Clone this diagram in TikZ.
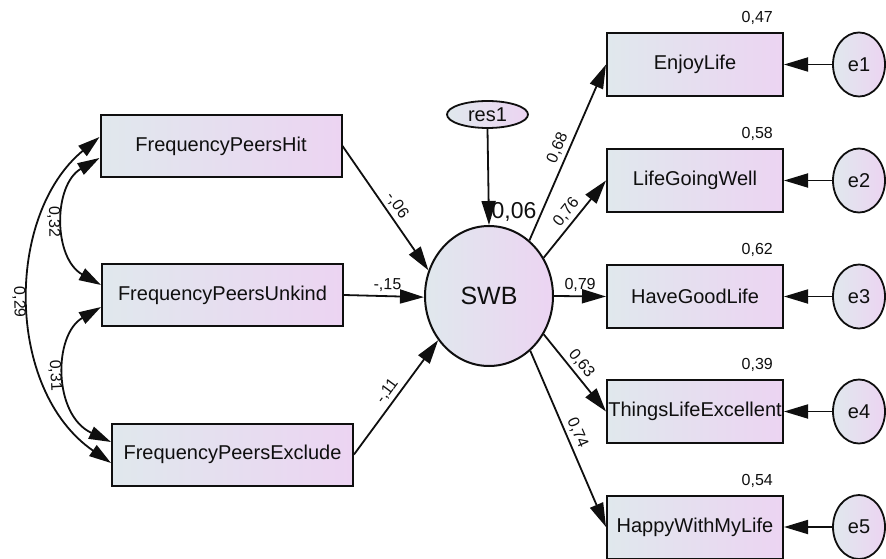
\documentclass[tikz,border=0pt]{standalone}
\usepackage{fontspec}
\setmainfont{Liberation Sans}
\usetikzlibrary{arrows.meta,shapes.geometric,calc}
\definecolor{boxL}{RGB}{224,232,237}
\definecolor{boxR}{RGB}{236,212,242}
\definecolor{ink}{RGB}{15,15,15}
\begin{document}
\begin{tikzpicture}[x=1pt,y=1pt,
  obs/.style={rectangle,draw=ink,line width=2pt,left color=boxL,right color=boxR,inner sep=0pt,minimum height=62pt,font=\fontsize{20}{24}\selectfont,text=ink},
  lobs/.style={obs,minimum width=241pt},
  robs/.style={obs,minimum width=176pt,minimum height=63pt},
  err/.style={ellipse,draw=ink,line width=1.8pt,left color=boxL,right color=boxR,inner sep=0pt,minimum width=52pt,minimum height=64pt,font=\fontsize{20}{24}\selectfont,text=ink},
  lat/.style={ellipse,draw=ink,line width=2pt,left color=boxL,right color=boxR,inner sep=0pt,minimum width=128pt,minimum height=140pt,font=\fontsize{25}{30}\selectfont,text=ink},
  resid/.style={ellipse,draw=ink,line width=1.8pt,left color=boxL,right color=boxR,inner sep=0pt,minimum width=81pt,minimum height=27pt,font=\fontsize{20}{24}\selectfont,text=ink},
  conn/.style={line width=1.8pt,draw=ink,-{Triangle[length=24pt,width=14pt]}},
  cov/.style={line width=1.8pt,draw=ink,{Triangle[length=22pt,width=13pt]}-{Triangle[length=22pt,width=13pt]}},
  coef/.style={font=\fontsize{16}{19}\selectfont,text=ink,inner sep=3.5pt},
  rsq/.style={font=\fontsize{16}{19}\selectfont,text=ink,inner sep=0pt,anchor=south east}
]
\useasboundingbox (0,0) rectangle (886,-559);

% left observed variables
\node[lobs] (hit) at (221,-146) {FrequencyPeersHit};
\node[lobs] (unk) at (222.5,-295) {FrequencyPeersUnkind};
\node[lobs] (exc) at (232.5,-454.5) {FrequencyPeersExclude};

% latent
\node[lat] (swb) at (489,-296) {SWB};
\node[resid] (res) at (487.5,-114.5) {res1};

% right observed variables
\node[robs] (y1) at (695,-64.5) {EnjoyLife};
\node[robs] (y2) at (695,-180.5) {LifeGoingWell};
\node[robs] (y3) at (695,-296.5) {HaveGoodLife};
\node[robs] (y4) at (695,-411.5) {ThingsLifeExcellent};
\node[robs] (y5) at (695,-527) {HappyWithMyLife};

% errors
\node[err] (e1) at (859,-64.5) {e1};
\node[err] (e2) at (859,-180.5) {e2};
\node[err] (e3) at (859,-296.5) {e3};
\node[err] (e4) at (859,-411.5) {e4};
\node[err] (e5) at (859,-527) {e5};

% R^2 values
\node[rsq] (r1) at ($(y1.north east)+(-11,7)$) {0,47};
\node[rsq] (r2) at ($(y2.north east)+(-11,7)$) {0,58};
\node[rsq] (r3) at ($(y3.north east)+(-11,7)$) {0,62};
\node[rsq] (r4) at ($(y4.north east)+(-11,7)$) {0,39};
\node[rsq] (r5) at ($(y5.north east)+(-11,7)$) {0,54};

% paths into SWB
\draw[conn] (hit.east) -- (swb.157) node[coef,pos=0.53,sloped,above] {-,06};
\draw[conn] (unk.east) -- (swb.181) node[coef,pos=0.54,sloped,above] {-,15};
\draw[conn] (exc.east) -- (swb.221) node[coef,pos=0.5,sloped,above] {-,11};
\draw[conn] (res.south) -- (swb.north) node[pos=0.86,right,xshift=0pt,inner sep=2pt,font=\fontsize{23}{27}\selectfont,text=ink] {0,06};

% loadings
\draw[conn] (swb.54) -- (y1.west) node[coef,pos=0.5,sloped,above] {0,68};
\draw[conn] (swb.35) -- (y2.west) node[coef,pos=0.5,sloped,above] {0,76};
\draw[conn] (swb.east) -- (y3.west) node[coef,pos=0.5,sloped,above] {0,79};
\draw[conn] (swb.-35) -- (y4.west) node[coef,pos=0.47,sloped,above] {0,63};
\draw[conn] (swb.-53) -- (y5.west) node[coef,pos=0.49,sloped,above] {0,74};

% errors to indicators
\draw[conn] (e1.west) -- (y1.east);
\draw[conn] (e2.west) -- (y2.east);
\draw[conn] (e3.west) -- (y3.east);
\draw[conn] (e4.west) -- (y4.east);
\draw[conn] (e5.west) -- (y5.east);

% covariances
\draw[cov] ($(hit.west)+(0,-12)$) .. controls (53,-185) and (53,-258) .. ($(unk.west)+(0,10)$) node[coef,pos=0.5,sloped,below] {0,32};
\draw[cov] ($(unk.west)+(0,-12)$) .. controls (53,-335) and (53,-415) .. ($(exc.west)+(0,12.5)$) node[coef,pos=0.5,sloped,below] {0,31};
\draw[cov] ($(hit.west)+(0,9)$) .. controls (5,-215) and (5,-390) .. ($(exc.west)+(0,-8.5)$) node[coef,pos=0.5,sloped,below] {0,29};
\end{tikzpicture}
\end{document}
